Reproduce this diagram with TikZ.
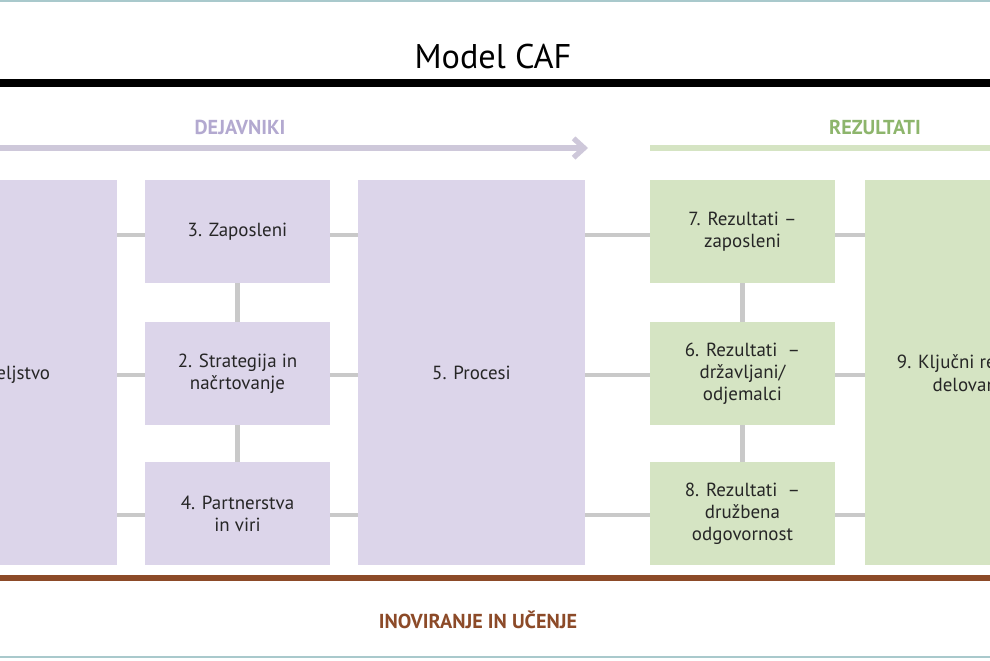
\documentclass[tikz,border=0pt]{standalone}
\usepackage{fontspec}
\setmainfont{PT Sans}
\usetikzlibrary{arrows.meta}
\definecolor{lav}{HTML}{DCD5EA}
\definecolor{lavtxt}{HTML}{B3A9D0}
\definecolor{grn}{HTML}{D5E4C3}
\definecolor{grntxt}{HTML}{8DB56C}
\definecolor{conn}{HTML}{C9C9C9}
\definecolor{brn}{HTML}{8C4A28}
\definecolor{frame}{HTML}{A9C9CC}
\tikzset{
  txt/.style={font=\fontsize{10.8}{12.6}\selectfont, text=black!85, align=center},
  box/.style={fill=#1, draw=none, inner sep=0pt, txt},
  cn/.style={draw=conn, line width=2.8pt},
  hdr/.style={font=\bfseries\fontsize{11.5}{13}\selectfont},
}
\begin{document}
\begin{tikzpicture}[x=0.02cm,y=-0.02cm]
\useasboundingbox (0,0) rectangle (990,660);
\clip (0,0) rectangle (990,660);
\fill[white] (0,0) rectangle (990,660);
\draw[frame, line width=1.5pt] (0,1) -- (990,1);
\draw[frame, line width=1.5pt] (0,657) -- (990,657);
\node[font=\fontsize{19.5}{22}\selectfont] (title) at (493,57) {Model CAF};
\draw[black, line width=4.5pt] (0,83) -- (990,83);
\node[hdr, text=lavtxt] (dej) at (240,127) {DEJAVNIKI};
\node[hdr, text=grntxt] (rez) at (875,127) {REZULTATI};
\coordinate (a0) at (0,148); \coordinate (a1) at (588,148);
\draw[lav!85!gray, line width=3pt, -{Straight Barb[length=6pt,width=11pt]}] (a0) -- (a1);
\coordinate (g0) at (650,148); \coordinate (g1) at (990,148);
\draw[grn, line width=3pt] (g0) -- (g1);
% boxes
\fill[lav] (-120,180) rectangle (117,565);
\node[txt] (b1) at (-8,375) {1. Voditeljstvo};
\node[box=lav, minimum width=185*0.02cm, minimum height=103*0.02cm] (b3) at (237.5,231.5) {3. Zaposleni};
\node[box=lav, minimum width=185*0.02cm, minimum height=103*0.02cm] (b2) at (237.5,373.5) {2. Strategija in\\načrtovanje};
\node[box=lav, minimum width=185*0.02cm, minimum height=103*0.02cm] (b4) at (237.5,513.5) {4. Partnerstva\\in viri};
\node[box=lav, minimum width=227*0.02cm, minimum height=385*0.02cm] (b5) at (471.5,372.5) {5. Procesi};
\node[box=grn, minimum width=185*0.02cm, minimum height=103*0.02cm] (b7) at (742.5,231.5) {7. Rezultati –\\zaposleni};
\node[box=grn, minimum width=185*0.02cm, minimum height=103*0.02cm] (b6) at (742.5,373.5) {6. Rezultati \ –\\državljani/\\odjemalci};
\node[box=grn, minimum width=185*0.02cm, minimum height=103*0.02cm] (b8) at (742.5,513.5) {8. Rezultati \ –\\družbena\\odgovornost};
\fill[grn] (865,180) rectangle (1110,565);
\node[txt] (b9) at (972,375) {9. Ključni rezultati\\delovanja};
% connectors
\coordinate (l1) at (117,235); \coordinate (l2) at (117,375); \coordinate (l3) at (117,515);
\draw[cn] (l1) -- (b3.west|-l1); \draw[cn] (l2) -- (b2.west|-l2); \draw[cn] (l3) -- (b4.west|-l3);
\draw[cn] (b3.east|-l1) -- (b5.west|-l1); \draw[cn] (b2.east|-l2) -- (b5.west|-l2); \draw[cn] (b4.east|-l3) -- (b5.west|-l3);
\draw[cn] (b3.south) -- (b2.north);
\draw[cn] (b2.south) -- (b4.north);
\draw[cn] (b5.east|-l1) -- (b7.west|-l1); \draw[cn] (b5.east|-l2) -- (b6.west|-l2); \draw[cn] (b5.east|-l3) -- (b8.west|-l3);
\coordinate (r1) at (865,235); \coordinate (r2) at (865,375); \coordinate (r3) at (865,515);
\draw[cn] (b7.east|-l1) -- (r1); \draw[cn] (b6.east|-l2) -- (r2); \draw[cn] (b8.east|-l3) -- (r3);
\draw[cn] (b7.south) -- (b6.north);
\draw[cn] (b6.south) -- (b8.north);
\draw[brn, line width=3.5pt] (0,578) -- (990,578);
\node[hdr, text=brn] (inov) at (478,620) {INOVIRANJE IN UČENJE};
\end{tikzpicture}
\end{document}
